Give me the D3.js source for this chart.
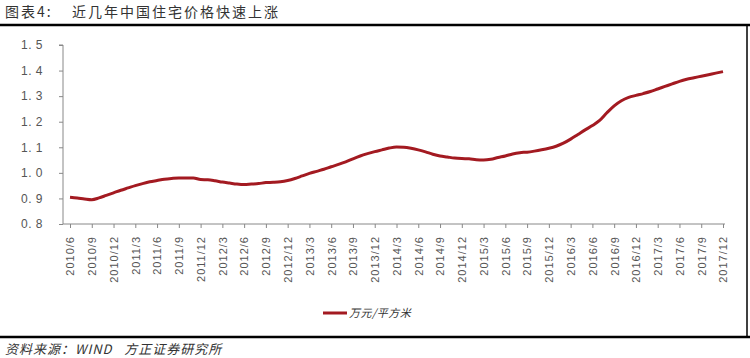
<!DOCTYPE html>
<html><head><meta charset="utf-8">
<script src="https://cdn.jsdelivr.net/npm/d3@7"></script>
<style>
html,body{margin:0;padding:0;background:#fff;}
svg{display:block;}
</style></head>
<body>
<svg id="c" width="750" height="358"></svg>
<script>
// Monthly data, 2010/6 .. 2017/12 (万元/平方米)
const startYear = 2010, startMonth = 6;
const values = [
 0.905,0.902,0.898,0.895,0.902,0.912,0.922,
 0.932,0.941,0.950,0.958,0.965,0.970,0.975,0.978,0.980,0.980,0.980,0.974,
 0.973,0.969,0.964,0.960,0.956,0.954,0.956,0.958,0.962,0.963,0.965,0.970,
 0.978,0.988,0.998,1.006,1.014,1.024,1.033,1.043,1.055,1.066,1.075,1.083,
 1.090,1.097,1.101,1.100,1.096,1.090,1.082,1.073,1.066,1.062,1.058,1.056,
 1.055,1.051,1.050,1.053,1.060,1.066,1.074,1.079,1.081,1.085,1.090,1.096,
 1.104,1.116,1.132,1.150,1.168,1.185,1.205,1.235,1.262,1.282,1.295,1.303,
 1.310,1.318,1.328,1.338,1.348,1.358,1.366,1.372,1.378,1.384,1.390,1.396
];
const yTicks = [0.8,0.9,1.0,1.1,1.2,1.3,1.4,1.5];
const yTickLabels = ["0. 8","0. 9","1. 0","1. 1","1. 2","1. 3","1. 4","1. 5"];
const seriesName = "万元/平方米";
const title = "图表4:";
const titleText = "近几年中国住宅价格快速上涨";
const source = "资料来源：WIND   方正证券研究所";

const months = values.map((v,i)=>{
  const m0 = startMonth - 1 + i;
  return {y: startYear + Math.floor(m0/12), m: (m0%12)+1, v: v, i: i};
});
const labelIdx = months.filter(d => d.m % 3 === 0).map(d => d.i);

const svg = d3.select("#c");
const x = d3.scaleLinear().domain([0, values.length-1]).range([70, 723]);
const y = d3.scaleLinear().domain([0.8, 1.5]).range([224, 45]);

// title & rules
svg.append("text").attr("x",5).attr("y",17).attr("font-family","'Noto Sans CJK SC'")
  .attr("font-size",14).attr("fill","#333").attr("letter-spacing",2).text(title);
svg.append("text").attr("x",72).attr("y",17).attr("font-family","'Noto Sans CJK SC'")
  .attr("font-size",14).attr("fill","#333").attr("letter-spacing",2).text(titleText);
svg.append("line").attr("x1",0).attr("x2",750).attr("y1",25).attr("y2",25)
  .attr("stroke","#000").attr("stroke-width",2.5);
svg.append("line").attr("x1",747).attr("x2",747).attr("y1",25).attr("y2",337)
  .attr("stroke","#000").attr("stroke-width",1.5);
svg.append("line").attr("x1",0).attr("x2",750).attr("y1",337).attr("y2",337)
  .attr("stroke","#000").attr("stroke-width",2.5);

// y axis
const yAxis = d3.axisLeft(y).tickValues(yTicks).tickSize(4).tickPadding(16)
  .tickFormat((d,i)=>yTickLabels[i]);
const gy = svg.append("g").attr("transform","translate(63,0)").call(yAxis);
gy.select(".domain").attr("stroke","#888").attr("d","M-4,45H0V224");
gy.selectAll(".tick line").attr("stroke","#888");
gy.selectAll(".tick text").attr("font-family","'Liberation Sans', Arial").attr("font-size",12)
  .attr("fill","#555").attr("letter-spacing",0.5);

// x axis
const xAxis = d3.axisBottom(x).tickValues(labelIdx).tickSize(4)
  .tickFormat(i => months[i].y + "/" + months[i].m);
const gx = svg.append("g").attr("transform","translate(0,224)").call(xAxis);
gx.select(".domain").attr("stroke","#888").attr("d","M63,0H725");
gx.selectAll(".tick line").attr("stroke","#888");
gx.selectAll(".tick text").attr("font-family","'Liberation Sans', Arial").attr("font-size",11)
  .attr("fill","#555").attr("letter-spacing",1)
  .attr("transform","rotate(-90)").attr("text-anchor","end")
  .attr("x",-12).attr("y",0).attr("dy","0.35em");

// line
const line = d3.line().x(d=>x(d.i)).y(d=>y(d.v)).curve(d3.curveMonotoneX);
svg.append("path").datum(months).attr("d",line).attr("fill","none")
  .attr("stroke","#a31a21").attr("stroke-width",3).attr("stroke-linejoin","round");

// legend
svg.append("line").attr("x1",323).attr("x2",347).attr("y1",313).attr("y2",313)
  .attr("stroke","#a31a21").attr("stroke-width",3);
svg.append("text").attr("x",349).attr("y",317).attr("font-family","'Noto Sans CJK SC'")
  .attr("font-size",11).attr("fill","#333").attr("font-style","italic").attr("letter-spacing",0.5).text(seriesName);

// source
svg.append("text").attr("x",5).attr("y",354).attr("font-family","'Noto Sans CJK SC'")
  .attr("font-size",13).attr("fill","#333").attr("font-style","italic").attr("letter-spacing",1)
  .attr("xml:space","preserve").style("white-space","pre").text(source);
</script>
</body></html>
